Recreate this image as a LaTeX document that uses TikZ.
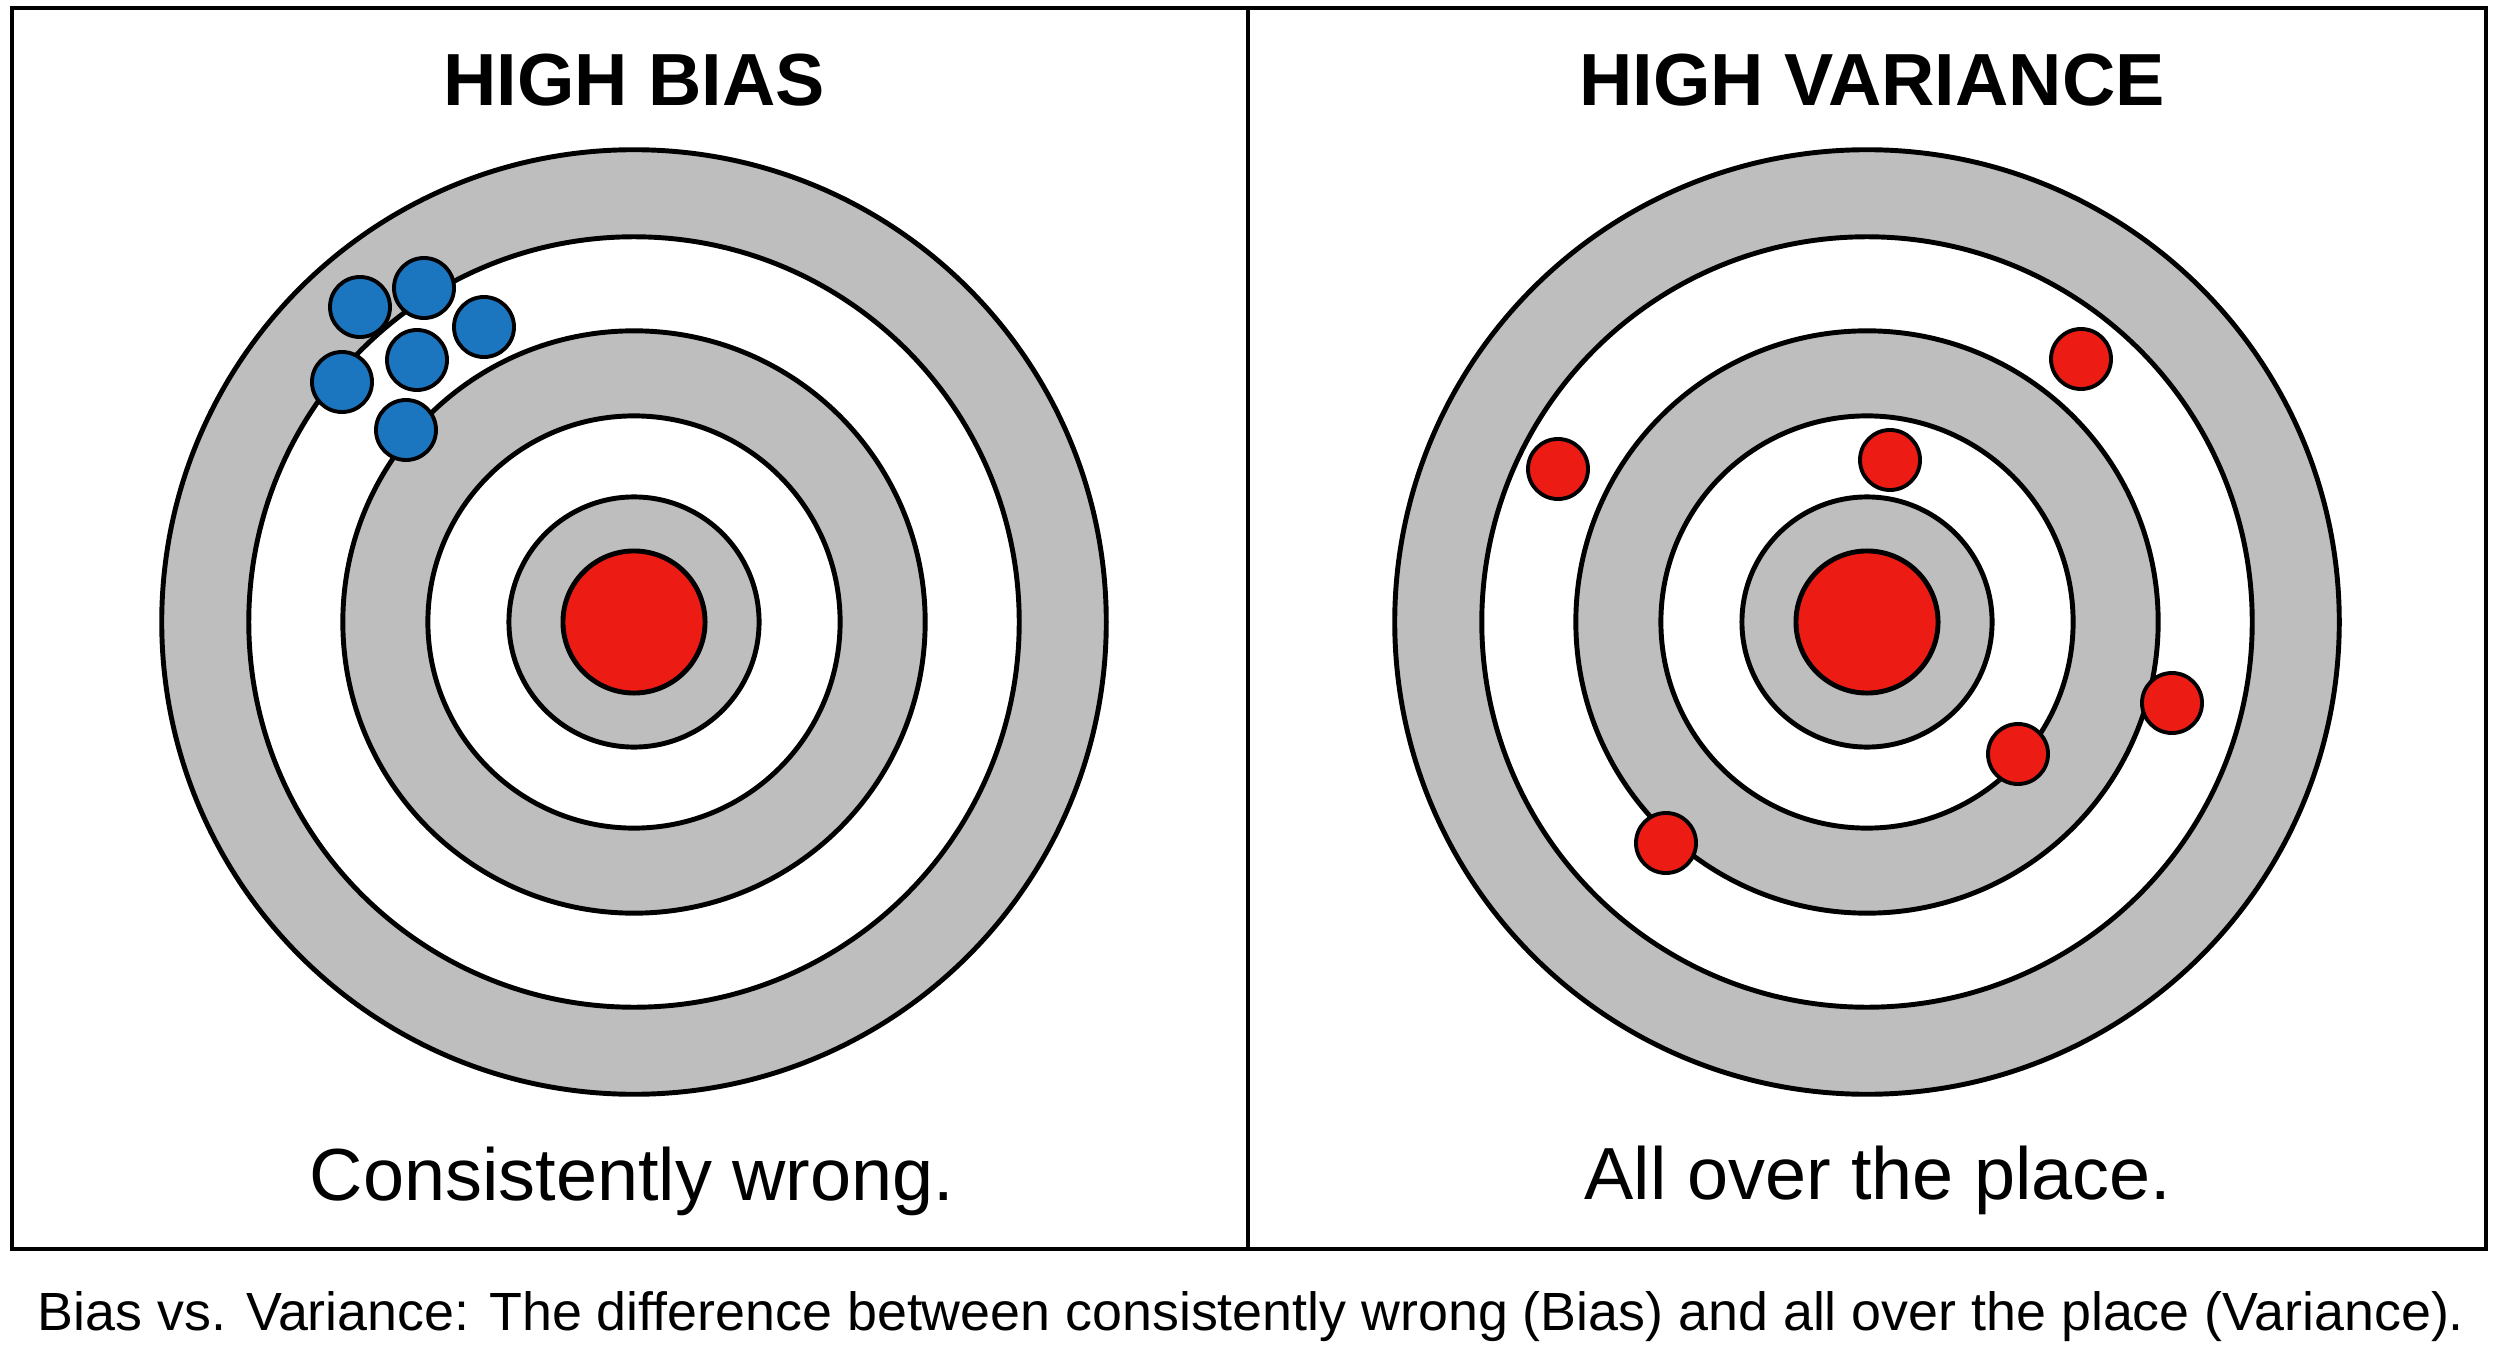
\documentclass[tikz,border=0pt]{standalone}
\usepackage{fontspec}
\setmainfont{Liberation Sans}
\definecolor{ringgray}{RGB}{190,190,190}
\definecolor{bullred}{RGB}{236,28,20}
\definecolor{dotblue}{RGB}{27,117,191}
\newcommand{\drawtarget}[1]{%
  \filldraw[ringline,fill=ringgray] (#1) circle[radius=4.72cm];
  \filldraw[ringline,fill=white] (#1) circle[radius=3.85cm];
  \filldraw[ringline,fill=ringgray] (#1) circle[radius=2.91cm];
  \filldraw[ringline,fill=white] (#1) circle[radius=2.06cm];
  \filldraw[ringline,fill=ringgray] (#1) circle[radius=1.25cm];
  \filldraw[ringline,fill=bullred] (#1) circle[radius=0.71cm];
}
\begin{document}
\begin{tikzpicture}[x=0.01cm,y=-0.01cm,
  ringline/.style={line width=1.4pt,draw=black},
  frameline/.style={line width=0.9pt,draw=black},
  bdot/.style={circle,inner sep=0pt,minimum size=0.6cm,fill=dotblue,draw=black,line width=1.1pt},
  rdot/.style={circle,inner sep=0pt,minimum size=0.6cm,fill=bullred,draw=black,line width=1.1pt},
  titletext/.style={anchor=base,font=\fontsize{21}{25}\selectfont\bfseries,inner sep=0pt},
  subtext/.style={anchor=base,font=\fontsize{21}{25}\selectfont,inner sep=0pt},
  captext/.style={anchor=base,font=\fontsize{15.3}{18}\selectfont,inner sep=0pt}]
\useasboundingbox (0,0) rectangle (2500,1364);
\fill[white] (0,0) rectangle (2500,1364);
% frame
\draw[frameline] (12,8) rectangle (2486,1249);
\draw[frameline] (1248,8) -- (1248,1249);
% targets
\drawtarget{634,622}
\drawtarget{1867,622}
% blue hits (high bias)
\node[bdot] (b1) at (360,307) {};
\node[bdot] (b2) at (424,288) {};
\node[bdot] (b3) at (484,327) {};
\node[bdot] (b4) at (417,360) {};
\node[bdot] (b5) at (342,382) {};
\node[bdot] (b6) at (406,430) {};
% red hits (high variance)
\node[rdot] (r1) at (2081,359) {};
\node[rdot] (r2) at (1558,469) {};
\node[rdot] (r3) at (1890,460) {};
\node[rdot] (r4) at (2172,703) {};
\node[rdot] (r5) at (2018,754) {};
\node[rdot] (r6) at (1666,843) {};
% texts
\node[titletext] (t1) at (634,106) {HIGH BIAS};
\node[titletext] (t2) at (1872,106) {HIGH VARIANCE};
\node[subtext] (s1) at (632,1200) {Consistently wrong.};
\node[subtext] (s2) at (1878,1199) {All over the place.};
\node[captext] (cap) at (1251,1330) {Bias vs. Variance: The difference between consistently wrong (Bias) and all over the place (Variance).};
\end{tikzpicture}
\end{document}
